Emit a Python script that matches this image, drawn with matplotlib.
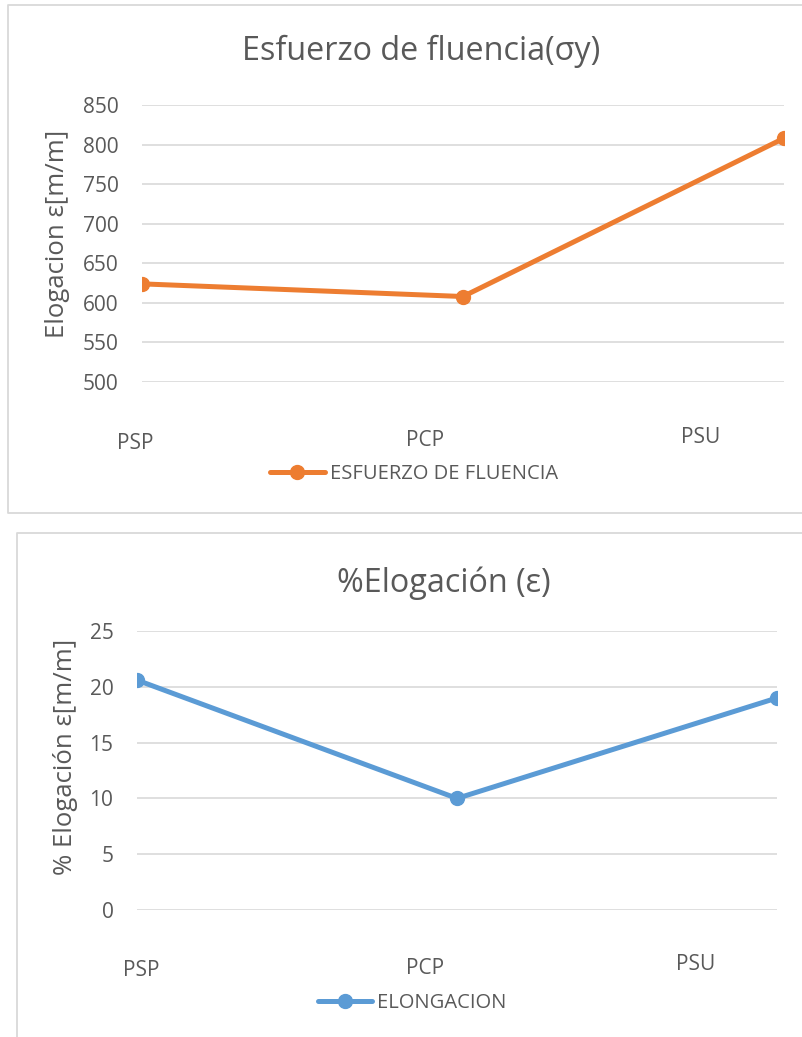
import matplotlib
matplotlib.use("Agg")
import matplotlib.pyplot as plt
from matplotlib.lines import Line2D
from matplotlib.transforms import ScaledTranslation

plt.rcParams['font.family'] = ['Open Sans', 'DejaVu Sans']

# datos de los ensayos
probetas = ['PSP', 'PCP', 'PSU']
esfuerzo_fluencia = [624, 608, 808]
elongacion = [20.6, 10, 19]

ticks_esfuerzo = [500, 550, 600, 650, 700, 750, 800, 850]
ticks_elongacion = [0, 5, 10, 15, 20, 25]

GRIS_TEXTO = '#595959'
GRIS_REJILLA = '#D9D9D9'
NARANJA = '#ED7D31'
AZUL = '#5B9BD5'

W, H = 803, 1037
fig = plt.figure(figsize=(W / 100, H / 100), dpi=100)


def marco(puntos):
    # borde del area del grafico (pixeles desde arriba a la izquierda)
    xs = [p[0] / W for p in puntos]
    ys = [1 - p[1] / H for p in puntos]
    fig.lines.append(Line2D(xs, ys, transform=fig.transFigure,
                            color=GRIS_REJILLA, linewidth=1.3))


def grafica_linea(rect, valores, ticks, color, titulo, titulo_xy, ylabel, ylabel_xy,
                  leyenda, leyenda_xy, desplaz):
    ax = fig.add_axes(rect)
    ax.plot(range(len(probetas)), valores, color=color, linewidth=3.6,
            marker='o', markersize=10, label=leyenda, solid_capstyle='round')
    ax.set_xlim(0, len(probetas) - 1)
    ax.set_ylim(ticks[0], ticks[-1])
    ax.set_yticks(ticks)
    ax.grid(axis='y', color=GRIS_REJILLA, linewidth=1.2)
    ax.set_axisbelow(True)
    for s in ax.spines.values():
        s.set_visible(False)
    ax.tick_params(axis='y', length=0, pad=17, labelsize=15, labelcolor=GRIS_TEXTO)
    ax.tick_params(axis='x', length=0, pad=0, labelsize=15, labelcolor=GRIS_TEXTO)

    # etiquetas de categoria desplazadas como en Excel
    ax.set_xticks(range(len(probetas)), probetas)
    for lab, (dx, dy) in zip(ax.get_xticklabels(), desplaz):
        lab.set_verticalalignment('center')
        lab.set_transform(lab.get_transform() +
                          ScaledTranslation(dx / 100, -dy / 100, fig.dpi_scale_trans))

    ax.set_ylabel(ylabel, fontsize=18.5, color=GRIS_TEXTO, va='center')
    ax.yaxis.set_label_coords(*ylabel_xy)

    fig.text(titulo_xy[0] / W, 1 - titulo_xy[1] / H, titulo, fontsize=23.3,
             color=GRIS_TEXTO, ha='center', va='baseline')

    fig.legend(handles=ax.get_lines(), loc='center',
               bbox_to_anchor=(leyenda_xy[0] / W, 1 - leyenda_xy[1] / H),
               frameon=False, fontsize=14.5, labelcolor=GRIS_TEXTO,
               handlelength=2.7, handletextpad=0.25, borderpad=0, borderaxespad=0)
    return ax


marco([(W + 5, 5), (8, 5), (8, 513), (W + 5, 513)])
marco([(W + 5, 533), (17, 533), (17, H + 5)])

grafica_linea([142 / W, 1 - 382 / H, 642 / W, 277 / H], esfuerzo_fluencia, ticks_esfuerzo,
              NARANJA, 'Esfuerzo de fluencia(σy)', (421, 60),
              'Elogacion ε[m/m]', (-0.131, 0.535),
              'ESFUERZO DE FLUENCIA', (414, 474),
              [(-7, 61), (-38, 58), (-83, 55)])

grafica_linea([137 / W, 1 - 910 / H, 640 / W, 279 / H], elongacion, ticks_elongacion,
              AZUL, '%Elogación (ε)', (444, 592),
              '% Elogación ε[m/m]', (-0.111, 0.55),
              'ELONGACION', (412, 1003),
              [(4, 61), (-32, 59), (-81, 55)])

fig.savefig('out.png', dpi=100, facecolor='white')
